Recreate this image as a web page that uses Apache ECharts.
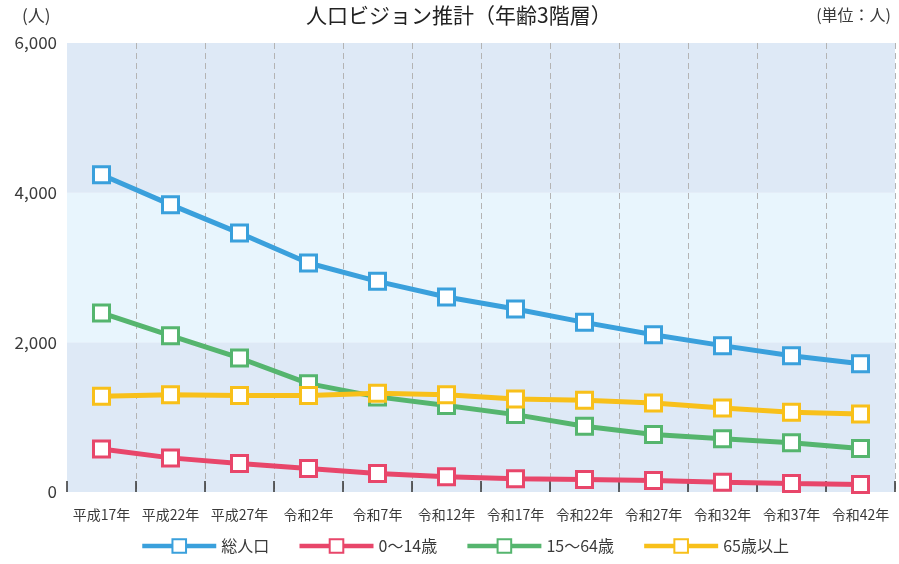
<!DOCTYPE html>
<html>
<head>
<meta charset="utf-8">
<script src="https://cdn.jsdelivr.net/npm/echarts@6/dist/echarts.min.js"></script>
<style>
html, body { margin: 0; padding: 0; background: #fff; }
#container { width: 899px; height: 564px; }
</style>
</head>
<body>
<div id="container"></div>
<script>
var categories = ['平成17年', '平成22年', '平成27年', '令和2年', '令和7年', '令和12年',
	'令和17年', '令和22年', '令和27年', '令和32年', '令和37年', '令和42年'];
var seriesNames = ['総人口', '0～14歳', '15～64歳', '65歳以上'];
var total = [4240, 3840, 3460, 3060, 2815, 2605, 2445, 2267, 2102, 1956, 1822, 1715];
var age0to14 = [576, 456, 380, 314, 247, 203, 176, 167, 153, 131, 113, 100];
var age15to64 = [2392, 2089, 1791, 1448, 1271, 1155, 1034, 878, 768, 710, 657, 581];
var age65plus = [1279, 1301, 1288, 1288, 1320, 1301, 1244, 1225, 1190, 1123, 1065, 1043];
var yTicks = [0, 2000, 4000, 6000];

var colors = ['#3aa0dc', '#e8466a', '#55b56e', '#f8c01a'];
var textColor = '#3a3a3a';
var font = '"Noto Sans CJK JP", "Noto Sans", sans-serif';

var dom = document.getElementById('container');
var myChart = echarts.init(dom);

function makeSeries(name, data) {
	return {
		name: name,
		type: 'line',
		data: data,
		symbol: 'rect',
		symbolSize: 16,
		lineStyle: { width: 5 },
		itemStyle: { color: '#fff', borderWidth: 3 },
		emphasis: { disabled: true }
	};
}

var series = [
	makeSeries(seriesNames[0], total),
	makeSeries(seriesNames[1], age0to14),
	makeSeries(seriesNames[2], age15to64),
	makeSeries(seriesNames[3], age65plus)
];
series.forEach(function (s, i) {
	s.lineStyle.color = colors[i];
	s.itemStyle.borderColor = colors[i];
});

var option = {
	animation: false,
	color: colors,
	textStyle: { fontFamily: font },
	grid: { left: 67, right: 4, top: 43, bottom: 72 },
	graphic: [
		{
			type: 'text', left: 306, top: 5,
			style: { text: '人口ビジョン推計（年齢3階層）', fontSize: 21, fill: '#222', fontFamily: font }
		},
		{
			type: 'text', right: 8, top: 7,
			style: { text: '(単位：人)', fontSize: 16, fill: textColor, fontFamily: font }
		},
		{
			type: 'text', left: 22, top: 7,
			style: { text: '(人)', fontSize: 17, fill: textColor, fontFamily: font }
		}
	],
	legend: {
		data: seriesNames,
		bottom: 5,
		left: 135,
		itemWidth: 74,
		itemHeight: 17,
		itemGap: 28,
		lineStyle: { width: 4.5 },
		textStyle: { color: textColor, fontSize: 16, fontFamily: font }
	},
	xAxis: {
		type: 'category',
		data: categories,
		boundaryGap: true,
		axisLine: { show: false },
		axisTick: { show: true, interval: 0, inside: true, length: 11, lineStyle: { color: '#333', width: 1.5 } },
		axisLabel: { interval: 0, color: textColor, fontSize: 14, margin: 16 },
		splitLine: {
			show: true,
			interval: function (index) { return index > 0; },
			lineStyle: { color: '#b4b4b4', type: [6, 4], width: 1 }
		}
	},
	yAxis: {
		type: 'value',
		min: yTicks[0],
		max: yTicks[yTicks.length - 1],
		interval: 2000,
		axisLine: { show: false },
		axisTick: { show: false },
		axisLabel: {
			color: textColor, fontSize: 17, margin: 10,
			formatter: function (v) { return v.toLocaleString('en-US'); }
		},
		splitLine: { show: false },
		splitArea: { show: true, areaStyle: { color: ['#dee9f6', '#e8f5fd'] } }
	},
	series: series
};

myChart.setOption(option, true);
</script>
</body>
</html>
